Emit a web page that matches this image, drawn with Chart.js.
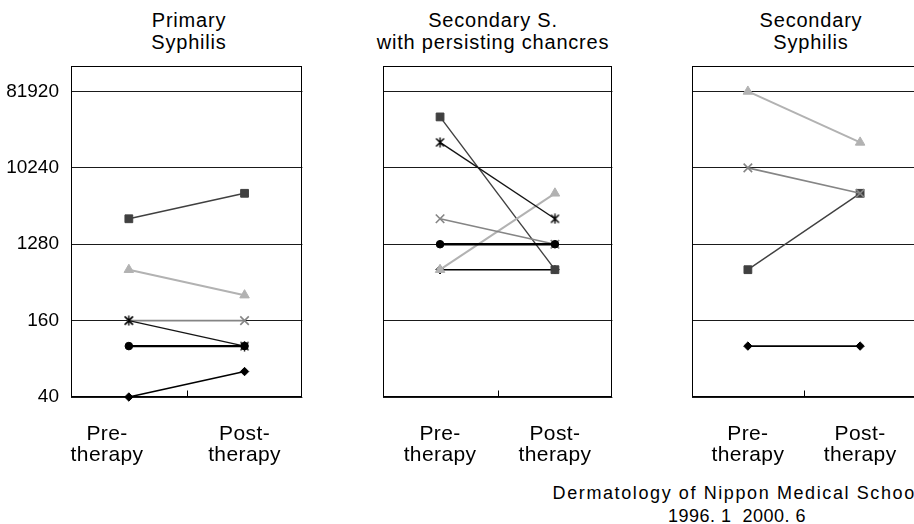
<!DOCTYPE html>
<html>
<head>
<meta charset="utf-8">
<script src="https://cdn.jsdelivr.net/npm/chart.js@4.4.1/dist/chart.umd.min.js"></script>
<style>
  html, body { margin: 0; padding: 0; background: #fff; overflow: hidden; }
  #wrap { position: relative; width: 914px; height: 524px; overflow: hidden;
          font-family: "Liberation Sans", Arial, sans-serif; color: #000; }
  .panel { position: absolute; top: 0; }
  .ttl { position: absolute; top: 9px; width: 300px; font-size: 20px; line-height: 22px;
         letter-spacing: 0.8px; text-align: center; white-space: nowrap; }
  .foot { position: absolute; left: 537px; width: 400px; font-size: 18px; line-height: 23px;
          text-align: center; white-space: pre; }
</style>
</head>
<body>
<div id="wrap">
  <div class="ttl" style="left:39px">Primary<br>Syphilis</div>
  <div class="ttl" style="left:343px">Secondary S.<br>with persisting chancres</div>
  <div class="ttl" style="left:661px">Secondary<br>Syphilis</div>

  <div class="panel" style="left:0px"><canvas id="c1" width="310" height="480"></canvas></div>
  <div class="panel" style="left:375px"><canvas id="c2" width="245" height="480"></canvas></div>
  <div class="panel" style="left:684px"><canvas id="c3" width="240" height="480"></canvas></div>

  <div class="foot" style="top:482px; letter-spacing:1.6px">Dermatology of Nippon Medical School</div>
  <div class="foot" style="top:505px; letter-spacing:0.5px">1996. 1  2000. 6</div>
</div>

<script>
// categories and axis
const categories = [['Pre-', 'therapy'], ['Post-', 'therapy']];
const yTickValues = [20, 160, 1280, 10240, 81920];
const yTickLabels = ['40', '160', '1280', '10240', '81920'];

// Primary syphilis (pre, post)
const primaryDiamond = [20, 40];
const primarySquare = [2560, 5120];
const primaryTriangle = [640, 320];
const primaryCross = [160, 160];
const primaryStar = [160, 80];
const primaryCircle = [80, 80];

// Secondary S. with persisting chancres
const chancreDiamond = [640, 640];
const chancreSquare = [40960, 640];
const chancreTriangle = [640, 5120];
const chancreCross = [2560, 1280];
const chancreStar = [20480, 2560];
const chancreCircle = [1280, 1280];

// Secondary syphilis
const secondaryDiamond = [80, 80];
const secondarySquare = [640, 5120];
const secondaryTriangle = [81920, 20480];
const secondaryCross = [10240, 5120];

const FAMILY = '"Liberation Sans", Arial, sans-serif';

// asterisk marker (x with a vertical bar)
function asterisk() {
    const c = document.createElement('canvas');
    c.width = 11; c.height = 11;
    const g = c.getContext('2d');
    g.strokeStyle = '#000';
    g.lineWidth = 1.4;
    g.beginPath();
    g.moveTo(5.5, 0.5); g.lineTo(5.5, 10.5);
    g.moveTo(1.5, 1.5); g.lineTo(9.5, 9.5);
    g.moveTo(9.5, 1.5); g.lineTo(1.5, 9.5);
    g.stroke();
    return c;
}
const starMarker = asterisk();

const styles = {
    diamond:  { pointStyle: 'rectRot',  color: '#000000', radius: 4.2, width: 1.6 },
    square:   { pointStyle: 'rect',     color: '#404040', radius: 5.5, width: 1.4 },
    triangle: { pointStyle: 'triangle', color: '#b2b2b2', radius: 5.5, width: 2 },
    cross:    { pointStyle: 'crossRot', color: '#858585', radius: 6,   width: 1.6 },
    star:     { pointStyle: starMarker, color: '#151515', radius: 5,   width: 1.4 },
    circle:   { pointStyle: 'circle',   color: '#000000', radius: 3.8, width: 2.4 }
};
const seriesOrder = ['diamond', 'square', 'triangle', 'cross', 'star', 'circle'];

const frame = {
    id: 'frame',
    afterLayout(chart) {
        // wider letter spacing for the category labels only
        const x = chart.scales.x;
        if (x._spaced) return;
        const orig = x.drawLabels;
        x.drawLabels = function (area) {
            chart.ctx.letterSpacing = '0.4px';
            orig.call(this, area);
            chart.ctx.letterSpacing = '0px';
        };
        x._spaced = true;
    },
    beforeDatasetsDraw(chart) {
        const { ctx, chartArea: a, scales: { x } } = chart;
        ctx.save();
        ctx.strokeStyle = '#000';
        ctx.lineWidth = 1;
        const l = Math.round(a.left) + 0.5, t = Math.round(a.top) + 0.5;
        const r = Math.round(a.right) - 0.5, b = Math.round(a.bottom) - 0.5;
        ctx.strokeRect(l, t, r - l, b - t);
        const mx = Math.round((x.getPixelForTick(0) + x.getPixelForTick(1)) / 2) + 0.5;
        ctx.beginPath();
        ctx.moveTo(mx, b);
        ctx.lineTo(mx, b - 6);
        ctx.stroke();
        ctx.restore();
    }
};

function makePanel(id, series, opt) {
    const datasets = [];
    seriesOrder.forEach((key, i) => {
        if (!series[key]) return;
        const s = styles[key];
        datasets.push({
            label: key,
            data: series[key],
            borderColor: s.color,
            backgroundColor: s.color,
            borderWidth: s.width,
            pointStyle: s.pointStyle,
            pointRadius: s.radius,
            pointBorderColor: s.color,
            pointBackgroundColor: s.color,
            pointBorderWidth: key === 'cross' ? 1.6 : 1,
            tension: 0,
            clip: false,
            order: seriesOrder.length - i
        });
    });

    // the Primary panel's "Pre-therapy" caption sits left of its points
    const pad = '\u00a0'.repeat(opt.prePad || 0);

    return new Chart(document.getElementById(id), {
        type: 'line',
        data: { labels: categories, datasets },
        options: {
            responsive: false,
            animation: false,
            devicePixelRatio: 1,
            layout: { padding: { top: 66, left: opt.padLeft, right: opt.padRight, bottom: 0 } },
            plugins: { legend: { display: false }, tooltip: { enabled: false } },
            scales: {
                x: {
                    type: 'category',
                    offset: true,
                    grid: { display: false, drawTicks: false },
                    border: { display: false },
                    ticks: {
                        color: '#000',
                        font: { family: FAMILY, size: 21, lineHeight: 1.0 },
                        padding: 27,
                        maxRotation: 0,
                        autoSkip: false,
                        callback: (v, i) => i === 0 ? categories[0].map(s => s + pad) : categories[i]
                    },
                    afterFit: s => { s.height = 83; }
                },
                y: {
                    type: 'logarithmic',
                    min: 20,
                    max: 163840,
                    bounds: 'data',
                    afterBuildTicks: s => { s.ticks = yTickValues.map(v => ({ value: v })); },
                    grid: { color: '#1a1a1a', lineWidth: 1, drawTicks: false },
                    border: { display: false },
                    ticks: {
                        display: opt.showY,
                        color: '#000',
                        font: { family: FAMILY, size: 19 },
                        padding: 12,
                        callback: (v, i) => yTickLabels[i]
                    },
                    afterFit: s => { s.width = opt.yWidth; }
                }
            }
        },
        plugins: [frame]
    });
}

makePanel('c1', {
    diamond: primaryDiamond, square: primarySquare, triangle: primaryTriangle,
    cross: primaryCross, star: primaryStar, circle: primaryCircle
}, { showY: true, yWidth: 71, padLeft: 0, padRight: 7, prePad: 7 });

makePanel('c2', {
    diamond: chancreDiamond, square: chancreSquare, triangle: chancreTriangle,
    cross: chancreCross, star: chancreStar, circle: chancreCircle
}, { showY: false, yWidth: 0, padLeft: 5, padRight: 6 });

makePanel('c3', {
    diamond: secondaryDiamond, square: secondarySquare, triangle: secondaryTriangle,
    cross: secondaryCross
}, { showY: false, yWidth: 0, padLeft: 5, padRight: 2 });
</script>
</body>
</html>
